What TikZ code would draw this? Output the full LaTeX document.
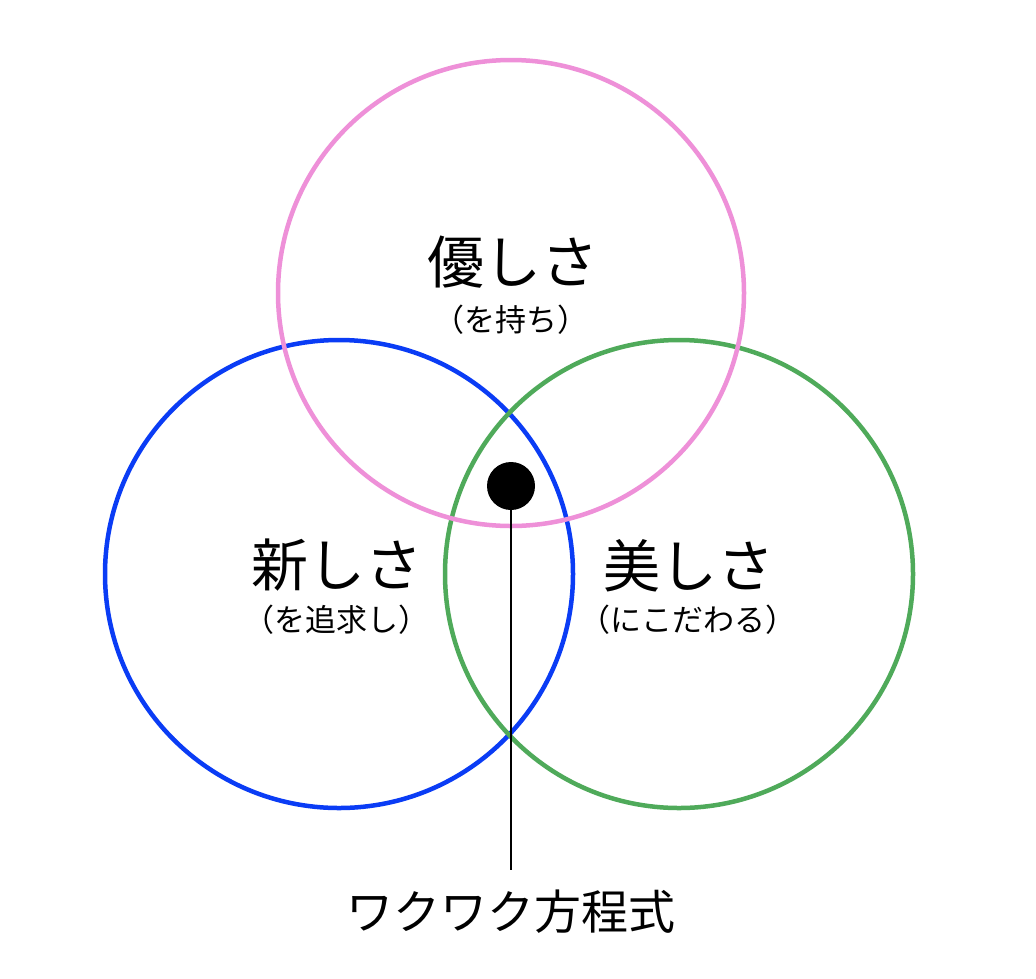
\documentclass[tikz,border=0pt]{standalone}
\usepackage{fontspec}
\newfontfamily\jpfont{Noto Sans CJK JP}
\definecolor{cpink}{HTML}{EE90D8}
\definecolor{cblue}{HTML}{0A3CF5}
\definecolor{cgreen}{HTML}{4FAA5A}
\begin{document}
\begin{tikzpicture}[x=1pt,y=-1pt,
  ring/.style={draw=#1,line width=4.5pt},
  big/.style={font=\jpfont\fontsize{57}{60}\selectfont,inner sep=0pt,anchor=center},
  small/.style={font=\jpfont\fontsize{31}{33}\selectfont,inner sep=0pt,anchor=center},
  lbl/.style={font=\jpfont\fontsize{47}{50}\selectfont,inner sep=0pt,anchor=center}]
\useasboundingbox (0,0) rectangle (1036,978);
\fill[white] (0,0) rectangle (1036,978);
\draw[ring=cblue] (339,574) circle (234);
\draw[ring=cgreen] (679,574) circle (234);
\draw[ring=cpink] (511,293) circle (233);
\node[big] (t1) at (513,262) {優しさ};
\node[small] (s1) at (511,320) {（を持ち）};
\node[big] (t2) at (337,565) {新しさ};
\node[small] (s2) at (336,620) {（を追求し）};
\node[big] (t3) at (689,566) {美しさ};
\node[small] (s3) at (688,620) {（にこだわる）};
\node[circle,fill=black,minimum size=48pt,inner sep=0pt] (dot) at (511,486) {};
\coordinate (end) at (509,870);
\draw[line width=1.6pt] (dot.center) -- (dot.center |- end);
\node[lbl] (eq) at (511,912) {ワクワク方程式};
\end{tikzpicture}
\end{document}
